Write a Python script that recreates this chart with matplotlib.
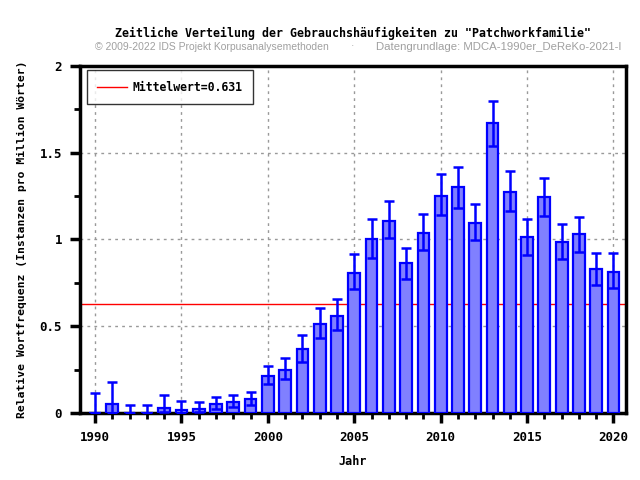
import numpy as np
import matplotlib
matplotlib.use("Agg")
import matplotlib.pyplot as plt
from matplotlib.ticker import MultipleLocator, FuncFormatter

# ===============================
# DATA
# ===============================
years = list(range(1990, 2021))
freq = [0.0, 0.05, 0.0, 0.0, 0.03, 0.02, 0.025, 0.054, 0.065, 0.082,
        0.215, 0.25, 0.367, 0.515, 0.561, 0.809, 1.0, 1.108, 0.862, 1.039,
        1.252, 1.3, 1.097, 1.67, 1.276, 1.013, 1.243, 0.987, 1.03, 0.828, 0.814]
err_low = [0.0, 0.0, 0.0, 0.0, 0.005, 0.0, 0.007, 0.023, 0.035, 0.048,
           0.167, 0.198, 0.296, 0.434, 0.48, 0.715, 0.893, 1.01, 0.774, 0.941,
           1.141, 1.183, 0.997, 1.54, 1.164, 0.912, 1.137, 0.888, 0.928, 0.738, 0.722]
err_high = [0.115, 0.18, 0.048, 0.044, 0.105, 0.07, 0.063, 0.094, 0.105, 0.123,
            0.27, 0.319, 0.45, 0.605, 0.657, 0.918, 1.118, 1.224, 0.953, 1.149,
            1.377, 1.42, 1.206, 1.80, 1.397, 1.12, 1.356, 1.091, 1.131, 0.924, 0.924]
mean_value = 0.631

title = 'Zeitliche Verteilung der Gebrauchshäufigkeiten zu "Patchworkfamilie"'
sub_left = "© 2009-2022 IDS Projekt Korpusanalysemethoden"
sub_right = "Datengrundlage: MDCA-1990er_DeReKo-2021-I"

# ===============================
# PLOT
# ===============================
mono = {"family": "DejaVu Sans Mono", "weight": "bold"}

fig = plt.figure(figsize=(6.4, 4.8), dpi=100)
ax = fig.add_axes([0.125, 0.1396, 0.853, 0.7229])

yerr = [np.array(freq) - np.array(err_low), np.array(err_high) - np.array(freq)]
ax.bar(years, freq, width=0.68, color="#8080ff", edgecolor="#0000ff",
       linewidth=1.6, zorder=3)
ax.errorbar(years, freq, yerr=yerr, fmt="none", ecolor="#0000ff",
            elinewidth=1.8, capsize=3.8, capthick=1.8, zorder=4)
ax.axhline(mean_value, color="red", linewidth=1, zorder=2,
           label="Mittelwert=%.3f" % mean_value)

ax.set_xlim(1989.13, 2020.72)
ax.set_ylim(0, 2)
ax.xaxis.set_major_locator(MultipleLocator(5))
ax.xaxis.set_minor_locator(MultipleLocator(1))
ax.yaxis.set_major_locator(MultipleLocator(0.5))
ax.yaxis.set_minor_locator(MultipleLocator(0.25))
ax.yaxis.set_major_formatter(FuncFormatter(lambda v, p: "%g" % v))
ax.grid(True, which="major", color="#999999", linestyle=(0, (2, 3)),
        linewidth=1, zorder=0)

for s in ax.spines.values():
    s.set_linewidth(2.5)
ax.tick_params(which="major", direction="out", length=7, width=2.5,
               labelsize=9, pad=6)
ax.tick_params(which="minor", direction="out", length=4, width=2)
for lbl in ax.get_xticklabels() + ax.get_yticklabels():
    lbl.set_fontfamily("DejaVu Sans Mono")
    lbl.set_fontweight("bold")

ax.set_xlabel("Jahr", fontdict=mono, fontsize=8.5, labelpad=8)
ax.set_ylabel("Relative Wortfrequenz (Instanzen pro Million Wörter)",
              fontdict=mono, fontsize=8.2, labelpad=9)

leg = ax.legend(loc="upper left", prop={"family": "DejaVu Sans Mono",
                "weight": "bold", "size": 8.3}, frameon=True, fancybox=False,
                borderpad=0.9, handlelength=2.6, handletextpad=0.5,
                borderaxespad=0.3, bbox_to_anchor=(0.006, 0.997))
leg.get_frame().set_edgecolor("black")
leg.get_frame().set_linewidth(1)

fig.text(0.552, 0.931, title, ha="center", va="center",
         fontfamily="DejaVu Sans Mono", fontweight="bold", fontsize=8.4)
fig.text(0.148, 0.903, sub_left, ha="left", va="center",
         fontfamily="Liberation Sans", fontsize=7.5, color="#a0a0a0")
fig.text(0.55, 0.903, "·", ha="center", va="center",
         fontfamily="Liberation Sans", fontsize=7.5, color="#a0a0a0")
fig.text(0.5875, 0.903, sub_right, ha="left", va="center",
         fontfamily="Liberation Sans", fontsize=8.2, color="#a0a0a0")

fig.savefig("out.png", dpi=100)
